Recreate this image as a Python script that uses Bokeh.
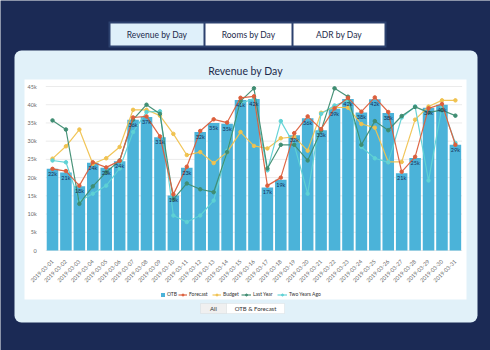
from bokeh.plotting import figure
from bokeh.models import (ColumnDataSource, Range1d, FixedTicker, LinearAxis,
                          CustomJSTickFormatter, BoxAnnotation, Label, Legend, LegendItem)
from bokeh.embed import file_html
from bokeh.resources import INLINE
from bokeh.core.properties import value
from math import pi

dates = ["2019-03-01", "2019-03-02", "2019-03-03", "2019-03-04", "2019-03-05", "2019-03-06",
         "2019-03-07", "2019-03-08", "2019-03-09", "2019-03-10", "2019-03-11", "2019-03-12",
         "2019-03-13", "2019-03-14", "2019-03-15", "2019-03-16", "2019-03-17", "2019-03-18",
         "2019-03-19", "2019-03-20", "2019-03-21", "2019-03-22", "2019-03-23", "2019-03-24",
         "2019-03-25", "2019-03-26", "2019-03-27", "2019-03-28", "2019-03-29", "2019-03-30",
         "2019-03-31"]
otb = [22.4, 21.4, 17.6, 24.1, 22.7, 24.5, 35.9, 36.6, 31.1, 15.1, 22.7, 32.5, 35.0, 34.8, 41.3,
       41.6, 17.3, 19.4, 31.6, 36.3, 33.0, 38.9, 41.6, 37.9, 41.5, 37.7, 21.2, 25.4, 39.2, 40.0, 29.0]
forecast = [22.4, 21.8, 17.8, 24.2, 22.8, 24.6, 36.5, 36.8, 31.3, 15.4, 23.0, 32.8, 36.0, 35.1, 41.9,
            42.3, 17.8, 20.0, 32.2, 36.8, 33.3, 39.0, 41.9, 38.1, 42.0, 38.0, 21.6, 25.7, 39.0, 40.2, 29.0]
budget = [25.2, 28.6, 33.2, 23.8, 25.3, 28.4, 38.6, 38.6, 37.0, 32.0, 26.2, 27.0, 24.0, 27.0, 32.5,
          28.7, 28.0, 30.8, 31.2, 27.4, 37.8, 39.3, 39.2, 34.7, 33.7, 24.3, 24.3, 35.9, 39.5, 41.2, 41.2]
last_year = [35.7, 33.2, 12.8, 17.6, 21.5, 24.7, 35.9, 40.0, 37.5, 14.0, 18.4, 16.8, 16.0, 27.0, 41.0,
             44.5, 22.5, 29.0, 29.0, 24.7, 32.9, 44.5, 42.2, 29.0, 35.5, 33.0, 36.9, 39.4, 37.9, 38.5, 37.0]
two_years_ago = [24.7, 24.2, 13.5, 15.6, 17.8, 22.5, 32.5, 38.0, 38.2, 9.6, 7.8, 9.6, 13.7, 27.4, 40.4,
                 41.6, 22.0, 35.5, 29.0, 15.6, 37.5, 39.8, 41.2, 28.4, 25.3, 24.2, 36.5, 39.5, 19.2, 39.5, 29.5]
y_ticks = [0, 5000, 10000, 15000, 20000, 25000, 30000, 35000, 40000, 45000]
tabs = ["Revenue by Day", "Rooms by Day", "ADR by Day"]
filters = ["All", "OTB & Forecast"]
title = "Revenue by Day"

k = 1000.0
idx = list(range(len(dates)))
src = ColumnDataSource(dict(
    x=idx,
    otb=[v * k for v in otb],
    forecast=[v * k for v in forecast],
    budget=[v * k for v in budget],
    ly=[v * k for v in last_year],
    tya=[v * k for v in two_years_ago],
    lbl=["%dk" % round(v) for v in otb],
))

W, H = 490, 350
NAVY = "#1b2a55"
PANEL = "#e1f1f9"
BAR = "#4bb3d9"
C_FC = "#dc5f3c"
C_BUD = "#f0c24f"
C_LY = "#3f8d72"
C_TYA = "#5fd2d5"
FONT = "Lato"

# plot-area geometry (canvas pixels): category centres and value axis placement
X0, DX = 52.0, 13.43          # first category centre, spacing
Y0, Y45 = 250.0, 86.0          # pixel rows of 0 and 45k
upp_x = 1.0 / DX
upp_y = 45000.0 / (Y0 - Y45)
x_range = Range1d(-X0 * upp_x, (W - X0) * upp_x)
y_range = Range1d(-(H - Y0) * upp_y, Y0 * upp_y)

p = figure(width=W, height=H, x_range=x_range, y_range=y_range,
           x_axis_location=None, y_axis_location=None,
           output_backend="svg", toolbar_location=None,
           min_border=0, min_border_left=0, min_border_right=0, min_border_top=0, min_border_bottom=0)
p.background_fill_color = NAVY
p.border_fill_color = NAVY
p.outline_line_color = None
p.grid.visible = False


def box(l, r, t, b, fill, line=None, lw=1, radius=0):
    bx = BoxAnnotation(left=l, right=r, top=H - t, bottom=H - b,
                       left_units="screen", right_units="screen", top_units="screen", bottom_units="screen",
                       fill_color=fill, fill_alpha=1, line_color=line, line_width=lw, level="image",
                       border_radius=radius)
    p.add_layout(bx)


def label(x, y, text, size, color="#1d2b4c"):
    p.add_layout(Label(x=x, y=H - y, x_units="screen", y_units="screen", text=text,
                       text_align="center", text_baseline="middle", text_font_size=size,
                       text_font=FONT, text_color=color))


box(14, 477, 50, 322, PANEL, radius=7)
box(24, 466, 79, 299, "white")
box(108, 386, 21, 47, "#2c416e")
tab_x = [(110, 203), (205, 291), (293, 384)]
for i, (a, b) in enumerate(tab_x):
    box(a, b, 23, 45, "#dff0fa" if i == 0 else "white")
    label((a + b) / 2, 34, tabs[i], "8.5px")

label(245, 70, title, "10.5px")

fb = [(200, 226, "#f0f0f0"), (226, 284, "white")]
for i, (a, b, c) in enumerate(fb):
    box(a, b, 303, 313, c, line="#c8c8c8", lw=0.8)
    label((a + b) / 2, 308, filters[i], "6px", "#333333")

# horizontal grid lines limited to the plot area
p.segment(x0=[-0.5] * len(y_ticks), x1=[len(dates) - 0.5] * len(y_ticks), y0=y_ticks, y1=y_ticks,
          line_color="#ebebeb", line_width=1)

bars = p.vbar(x="x", top="otb", width=0.86, source=src, fill_color=BAR, line_color=None)
series = [("Forecast", "forecast", C_FC), ("Budget", "budget", C_BUD),
          ("Last Year", "ly", C_LY), ("Two Years Ago", "tya", C_TYA)]
rend = {}
for name, col, c in [series[1], series[3], series[2], series[0]]:
    ln = p.line(x="x", y=col, source=src, line_color=c, line_width=1.2, line_alpha=0.95)
    sc = p.scatter(x="x", y=col, source=src, size=3.5, fill_color=c, line_color=c)
    rend[name] = [ln, sc]

p.text(x="x", y="otb", text="lbl", source=src, text_align="center", text_baseline="top",
       y_offset=2, text_font_size="5.5px", text_color="#16305a", text_font=value(FONT))

# compact horizontal legend: one entry per Legend so that entries are packed tightly
entries = [("OTB", [bars], 160, 5), ("Forecast", rend["Forecast"], 178, 9),
           ("Budget", rend["Budget"], 212, 9), ("Last Year", rend["Last Year"], 241, 10),
           ("Two Years Ago", rend["Two Years Ago"], 277, 10)]
for name, rs, lx, gw in entries:
    leg = Legend(items=[LegendItem(label=name, renderers=rs)], orientation="horizontal",
                 location=(lx, H - 297),
                 label_text_font_size="5px", label_text_font=FONT, label_text_color="#333333",
                 glyph_width=gw, glyph_height=5, label_height=5, label_standoff=2, spacing=0,
                 padding=0, margin=0, background_fill_alpha=0, border_line_color=None)
    p.add_layout(leg, "center")

# axes drawn at fixed data locations inside the frame
yaxis = LinearAxis(ticker=FixedTicker(ticks=y_ticks), fixed_location=-0.5,
                   formatter=CustomJSTickFormatter(code="return tick == 0 ? '0' : (tick / 1000) + 'k';"))
xaxis = LinearAxis(ticker=FixedTicker(ticks=idx), fixed_location=0,
                   major_label_overrides={i: d for i, d in enumerate(dates)})
for ax in (xaxis, yaxis):
    ax.axis_line_color = None
    ax.major_tick_line_color = None
    ax.minor_tick_line_color = None
    ax.major_label_text_font_size = "5.5px"
    ax.major_label_text_color = "#666666"
    ax.major_label_text_font = FONT
yaxis.major_label_standoff = 3
xaxis.major_label_orientation = pi / 4
xaxis.major_label_standoff = 4
p.add_layout(yaxis, "left")
p.add_layout(xaxis, "below")

open("out.html", "w").write(file_html(p, INLINE))
